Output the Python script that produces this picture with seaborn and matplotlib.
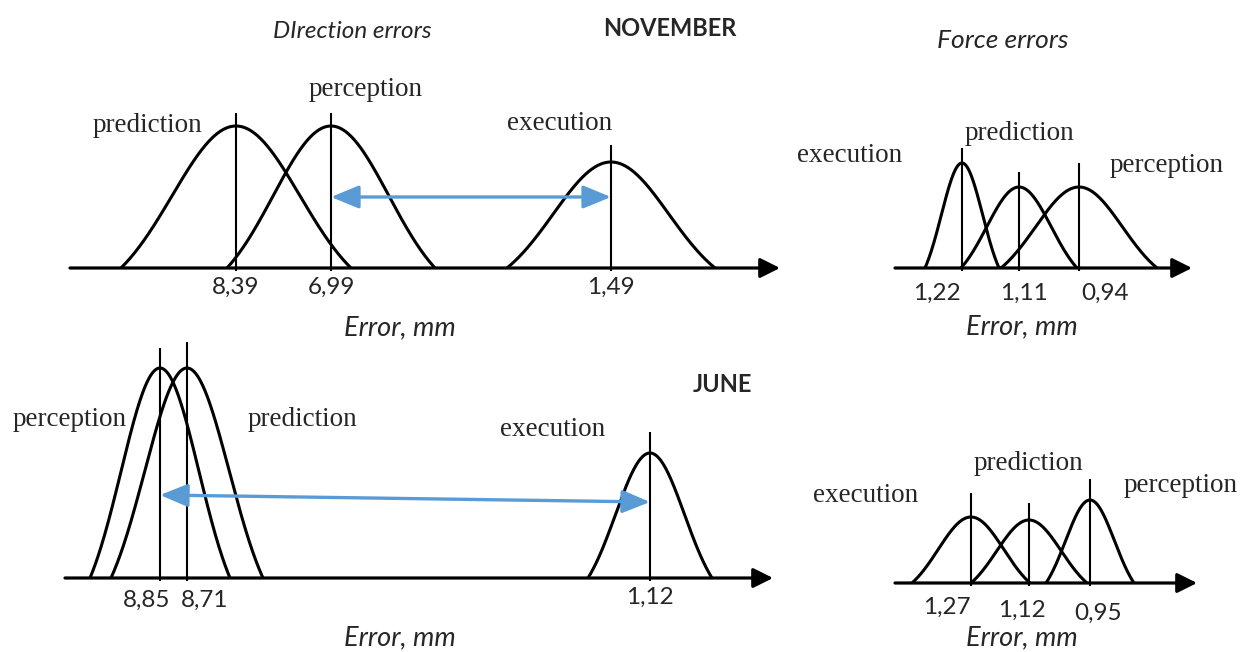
import numpy as np
import pandas as pd
import matplotlib
matplotlib.use("Agg")
import matplotlib.pyplot as plt
import seaborn as sns

sns.set_theme(style="white")
plt.rcParams['font.family'] = ['Lato', 'DejaVu Sans']

curvas = ["prediction", "perception", "execution"]

# Noviembre, errores de direccion
nov_dir_vals = ["8,39", "6,99", "1,49"]
nov_dir_alto = [142, 142, 106]
nov_dir_ancho = [115, 104, 104]
nov_dir_linea = [155, 155, 123]

# Noviembre, errores de fuerza
nov_fue_vals = ["1,11", "0,94", "1,22"]
nov_fue_alto = [81, 81, 105]
nov_fue_ancho = [58, 78, 37]
nov_fue_linea = [96, 105, 120]

# Junio, errores de direccion
jun_dir_vals = ["8,71", "8,85", "1,12"]
jun_dir_alto = [210, 210, 125]
jun_dir_ancho = [76, 70, 62]
jun_dir_linea = [236, 230, 146]

# Junio, errores de fuerza
jun_fue_vals = ["1,12", "0,95", "1,27"]
jun_fue_alto = [63, 83, 66]
jun_fue_ancho = [58, 44, 59]
jun_fue_linea = [80, 104, 90]

# posicion esquematica de cada pico sobre el eje (el eje no es lineal)
nov_dir_pos = [166, 261, 541]
nov_fue_pos = [124, 184, 67]
jun_dir_pos = [122, 95, 585]
jun_fue_pos = [134, 195, 76]

W, H = 1240, 652
fig = plt.figure(figsize=(W / 100, H / 100), dpi=100)

SERIF = 'Liberation Serif'
AZUL = '#5B9BD5'


def crear_panel(izq, der, base, arriba):
    ax = fig.add_axes([izq / W, 1 - base / H, (der - izq) / W, (base - arriba) / H])
    ax.set_xlim(0, der - izq)
    ax.set_ylim(0, base - arriba)
    ax.axis('off')
    return ax


def campana(centro, ancho, alto, n=200):
    k = 1.8
    t = np.linspace(-1, 1, n)
    g = (np.exp(-(k * t) ** 2 / 2) - np.exp(-k ** 2 / 2)) / (1 - np.exp(-k ** 2 / 2))
    return centro + ancho * t, alto * g


def dibujar(ax, largo, pos, ancho, alto, linea, vals, etiquetas, tick_xy, error_xy):
    filas = []
    for nombre, c, a, h in zip(curvas, pos, ancho, alto):
        x, y = campana(c, a, h)
        filas.append(pd.DataFrame({'x': x, 'y': y, 'curva': nombre}))
    df = pd.concat(filas, ignore_index=True)
    sns.lineplot(data=df, x='x', y='y', units='curva', estimator=None, sort=False,
                 color='black', lw=2.2, ax=ax, legend=False)
    ax.vlines(pos, -3, linea, color='black', lw=1.5, clip_on=False)
    ax.annotate('', xy=(largo, 0), xytext=(0, 0),
                arrowprops=dict(arrowstyle='-|>,head_length=0.6,head_width=0.3',
                                mutation_scale=20, lw=2.3, color='black',
                                shrinkA=0, shrinkB=0), annotation_clip=False)
    for nombre, (tx, ty) in zip(curvas, etiquetas):
        ax.text(tx, ty, nombre, family=SERIF, fontsize=19.5, ha='center', va='center',
                clip_on=False)
    for v, (tx, ty) in zip(vals, tick_xy):
        ax.text(tx, ty, v, fontsize=17.5, ha='center', va='center', clip_on=False)
    ax.text(error_xy[0], error_xy[1], 'Error, mm', fontsize=19.5, style='italic',
            ha='center', va='center', clip_on=False)


# Noviembre - direccion
ax1 = crear_panel(70, 780, 268, 80)
dibujar(ax1, 710, nov_dir_pos, nov_dir_ancho, nov_dir_alto, nov_dir_linea, nov_dir_vals,
        [(77, 143), (296, 178), (490, 144)],
        [(166, -19), (261, -19), (541, -19)], (330, -60))
ax1.annotate('', xy=(nov_dir_pos[2], 71), xytext=(nov_dir_pos[1], 71),
             arrowprops=dict(arrowstyle='<|-|>,head_length=0.85,head_width=0.35',
                             mutation_scale=20, lw=2.4, color=AZUL,
                             shrinkA=0, shrinkB=0))

# Noviembre - fuerza
ax2 = crear_panel(895, 1192, 268, 120)
dibujar(ax2, 297, nov_fue_pos, nov_fue_ancho, nov_fue_alto, nov_fue_linea, nov_fue_vals,
        [(124, 135), (272, 103), (-45, 113)],
        [(129, -25), (210, -25), (42, -25)], (127, -59))

# Junio - direccion
ax3 = crear_panel(65, 773, 578, 330)
dibujar(ax3, 708, jun_dir_pos, jun_dir_ancho, jun_dir_alto, jun_dir_linea, jun_dir_vals,
        [(237, 158), (5, 158), (488, 148)],
        [(140, -22), (82, -22), (585, -19)], (335, -60))
ax3.annotate('', xy=(jun_dir_pos[2], 76), xytext=(jun_dir_pos[1], 83),
             arrowprops=dict(arrowstyle='<|-|>,head_length=0.85,head_width=0.35',
                             mutation_scale=20, lw=2.4, color=AZUL,
                             shrinkA=0, shrinkB=0))

# Junio - fuerza
ax4 = crear_panel(895, 1197, 583, 470)
dibujar(ax4, 302, jun_fue_pos, jun_fue_ancho, jun_fue_alto, jun_fue_linea, jun_fue_vals,
        [(133, 120), (286, 98), (-29, 88)],
        [(127, -27), (203, -30), (52, -24)], (127, -55))

# titulos
fig.text(352 / W, 1 - 32 / H, 'DIrection errors', fontsize=17.5, style='italic',
         ha='center', va='center')
fig.text(670 / W, 1 - 28 / H, 'NOVEMBER', fontsize=17, weight='bold',
         ha='center', va='center')
fig.text(1003 / W, 1 - 41 / H, 'Force errors', fontsize=19, style='italic',
         ha='center', va='center')
fig.text(722 / W, 1 - 384 / H, 'JUNE', fontsize=17, weight='bold',
         ha='center', va='center')

fig.savefig('out.png', dpi=100, facecolor='white')
